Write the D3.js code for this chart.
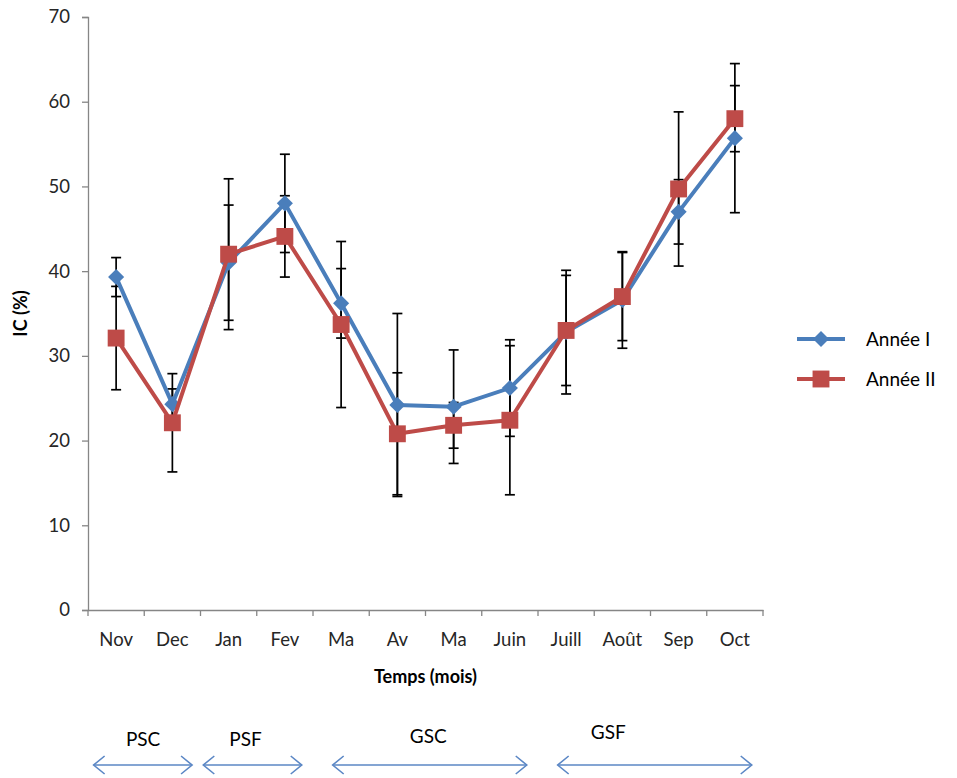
<!DOCTYPE html>
<html><head><meta charset="utf-8">
<script src="https://cdn.jsdelivr.net/npm/d3@7"></script>
<style>
body{margin:0;background:#fff;}
svg text{font-family:Lato,"Open Sans",sans-serif;}
</style></head>
<body><svg id="c" width="957" height="778"></svg>
<script>
const months = ["Nov","Dec","Jan","Fev","Ma","Av","Ma","Juin","Juill","Août","Sep","Oct"];
const anneeI  = [39.3,24.3,41.0,48.0,36.2,24.2,24.0,26.2,32.8,36.6,47.0,55.7];
const anneeII = [32.1,22.1,42.0,44.1,33.7,20.8,21.8,22.4,33.0,37.0,49.7,58.0];
const errI    = [2.3,1.8,6.8,5.8,4.1,10.8,6.7,5.7,7.3,5.7,3.8,8.8];
const errII   = [6.1,5.8,8.9,4.8,9.8,7.2,2.7,8.8,6.5,5.2,9.1,3.9];
const yTicks  = [0,10,20,30,40,50,60,70];
const seriesNames = ["Année I","Année II"];
const periods = ["PSC","PSF","GSC","GSF"];
const periodStart = [0.1,2.05,4.35,8.35];   // in month units
const periodEnd   = [1.85,3.8,7.8,11.8];
const periodLabelAt = [0.98,2.8,6.05,9.25];

const svg = d3.select("#c");
const L=88, R=763, T=17, B=610;
const x = d3.scaleBand().domain(d3.range(months.length)).range([L,R]);
const xu = d3.scaleLinear().domain([0,months.length]).range([L,R]);
const y = d3.scaleLinear().domain([0,70]).range([B,T]);
const axisCol="#868686", textCol="#262626";

// Y axis
const ya = svg.append("g").attr("transform",`translate(${L},0)`)
  .call(d3.axisLeft(y).tickValues(yTicks).tickSize(6).tickPadding(12));
ya.select(".domain").attr("stroke",axisCol).attr("stroke-width",1.3);
ya.selectAll(".tick line").attr("stroke",axisCol).attr("stroke-width",1.3);
ya.selectAll(".tick text").attr("fill",textCol).style("font-size","18.5px");

// X axis
const xa = svg.append("g").attr("transform",`translate(0,${B})`)
  .call(d3.axisBottom(x).tickFormat(i=>months[i]).tickSize(0).tickPadding(23));
xa.select(".domain").attr("stroke",axisCol).attr("stroke-width",1.3);
xa.selectAll(".tick text").attr("fill",textCol).style("font-size","18.5px");
svg.append("g").selectAll("line").data(d3.range(months.length+1)).join("line")
  .attr("x1",d=>xu(d)).attr("x2",d=>xu(d)).attr("y1",B).attr("y2",B+6)
  .attr("stroke",axisCol).attr("stroke-width",1.3);

// Axis titles
svg.append("text").attr("x",xu(6)).attr("y",683).attr("text-anchor","middle")
  .attr("fill","#000").style("font-size","18px").style("font-weight","bold").text("Temps (mois)");
svg.append("text").attr("transform",`translate(27,${y(35)}) rotate(-90)`).attr("text-anchor","middle")
  .attr("fill","#000").style("font-size","18px").style("font-weight","bold").text("IC (%)");

const series = [
  {vals:anneeI, err:errI, color:"#4A7EBB", shape:"diamond"},
  {vals:anneeII, err:errII, color:"#BE4B48", shape:"square"}
];
const cx = i => x(i)+x.bandwidth()/2;

// Error bars
const eb = svg.append("g").attr("stroke","#000").attr("stroke-width",1.7);
series.forEach(s=>{
  s.vals.forEach((v,i)=>{
    const lo=v-s.err[i], hi=v+s.err[i];
    eb.append("line").attr("x1",cx(i)).attr("x2",cx(i)).attr("y1",y(lo)).attr("y2",y(hi));
    eb.append("line").attr("x1",cx(i)-5).attr("x2",cx(i)+5).attr("y1",y(lo)).attr("y2",y(lo));
    eb.append("line").attr("x1",cx(i)-5).attr("x2",cx(i)+5).attr("y1",y(hi)).attr("y2",y(hi));
  });
});

const diamond = d3.symbol().type(d3.symbolDiamond2).size(165);
const square = d3.symbol().type(d3.symbolSquare).size(285);
const line = d3.line().x((d,i)=>cx(i)).y(d=>y(d));
series.forEach(s=>{
  svg.append("path").datum(s.vals).attr("d",line).attr("fill","none")
    .attr("stroke",s.color).attr("stroke-width",4).attr("stroke-linejoin","round");
  svg.append("g").selectAll("path").data(s.vals).join("path")
    .attr("transform",(d,i)=>`translate(${cx(i)},${y(d)})`)
    .attr("d", s.shape==="diamond"? diamond() : square())
    .attr("fill",s.color);
});

// Legend
series.forEach((s,k)=>{
  const ly = 339 + k*40;
  svg.append("line").attr("x1",797).attr("x2",845).attr("y1",ly).attr("y2",ly)
    .attr("stroke",s.color).attr("stroke-width",4);
  svg.append("path").attr("transform",`translate(821,${ly})`)
    .attr("d", s.shape==="diamond"? diamond() : square()).attr("fill",s.color);
  svg.append("text").attr("x",866).attr("y",ly+7).attr("fill","#000")
    .style("font-size","19px").text(seriesNames[k]);
});

// Periods with double arrows
const arrCol = "#5B87C5";
const labY = [746,746,743,739];
periods.forEach((p,k)=>{
  const x1=xu(periodStart[k]), x2=xu(periodEnd[k]), ay=765;
  const g = svg.append("g").attr("stroke",arrCol).attr("stroke-width",1.6).attr("fill","none");
  g.append("line").attr("x1",x1).attr("x2",x2).attr("y1",ay).attr("y2",ay);
  g.append("path").attr("d",`M${x1+11},${ay-9}L${x1},${ay}L${x1+11},${ay+9}`);
  g.append("path").attr("d",`M${x2-11},${ay-9}L${x2},${ay}L${x2-11},${ay+9}`);
  svg.append("text").attr("x",xu(periodLabelAt[k])).attr("y",labY[k]).attr("text-anchor","middle")
    .attr("fill","#000").style("font-size","19px").text(p);
});
</script></body></html>
